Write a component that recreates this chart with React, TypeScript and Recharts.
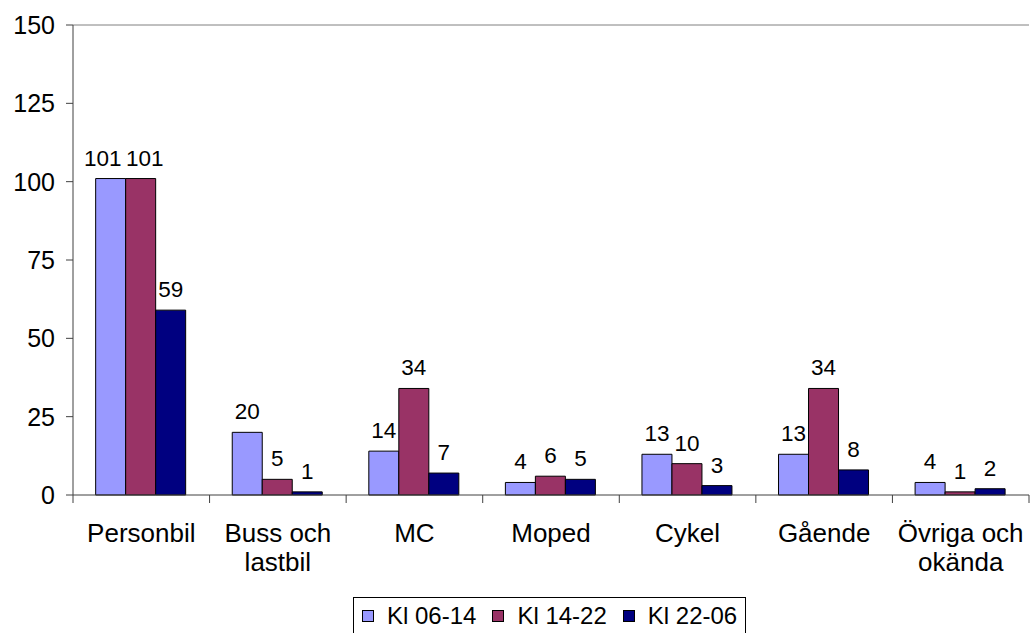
import React from "react";
import {
  BarChart,
  Bar,
  XAxis,
  YAxis,
  LabelList,
  Legend,
  ReferenceLine,
} from "recharts";

const categories = [
  "Personbil",
  "Buss och\nlastbil",
  "MC",
  "Moped",
  "Cykel",
  "Gående",
  "Övriga och\nokända",
];
const kl0614 = [101, 20, 14, 4, 13, 13, 4];
const kl1422 = [101, 5, 34, 6, 10, 34, 1];
const kl2206 = [59, 1, 7, 5, 3, 8, 2];
const yTicks = [0, 25, 50, 75, 100, 125, 150];

const seriesNames = ["Kl 06-14", "Kl 14-22", "Kl 22-06"];
const seriesColors = ["#9999FF", "#993366", "#000080"];
const seriesValues = [kl0614, kl1422, kl2206];

const data = categories.map((c, i) => ({
  name: c,
  a: kl0614[i],
  b: kl1422[i],
  c: kl2206[i],
}));

const FONT = '"Liberation Sans", Arial, Helvetica, sans-serif';

const CategoryTick = (props: any) => {
  const { x, y, payload, index } = props;
  const half = payload && payload.offset ? payload.offset : 0;
  const lines = String(payload.value).split("\n");
  return (
    <g>
      <line x1={x - half} x2={x - half} y1={y} y2={y + 8} stroke="#404040" strokeWidth={1} />
      {index === categories.length - 1 && (
        <line x1={x + half} x2={x + half} y1={y} y2={y + 8} stroke="#404040" strokeWidth={1} />
      )}
      <text x={x} y={y} textAnchor="middle" fontSize={26} fill="#000" fontFamily={FONT}>
        {lines.map((l, i) => (
          <tspan key={i} x={x} dy={i === 0 ? 47 : 29}>
            {l}
          </tspan>
        ))}
      </text>
    </g>
  );
};

const isWide = (v: number | undefined) => v !== undefined && String(v).length >= 3;

// Excel-style nudge: when neighbouring labels in a group are both wide, push them apart
const makeValueLabel = (seriesIdx: number) => (props: any) => {
  const { x, y, width, value, index } = props;
  const s = String(value);
  let dx = 0;
  if (isWide(value)) {
    const next = seriesValues[seriesIdx + 1]?.[index];
    const prev = seriesValues[seriesIdx - 1]?.[index];
    if (isWide(next)) dx -= 8;
    if (isWide(prev)) dx += 4;
  }
  const cx = Number(x) + Number(width) / 2 + dx;
  return (
    <text
      x={cx}
      y={Number(y) - 13}
      textAnchor="middle"
      fontSize={22.5}
      fill="#000"
      fontFamily={FONT}
    >
      {s}
    </text>
  );
};

const LegendContent = () => (
  <div
    style={{
      boxSizing: "border-box",
      width: 393,
      height: 37,
      border: "1px solid #000",
      display: "flex",
      alignItems: "center",
      paddingLeft: 8,
      fontFamily: FONT,
      fontSize: 24,
      color: "#000",
      background: "#fff",
      whiteSpace: "nowrap",
    }}
  >
    {seriesNames.map((n, i) => (
      <div
        key={n}
        style={{
          display: "flex",
          alignItems: "center",
          flexShrink: 0,
          marginRight: i < 2 ? 16 : 0,
        }}
      >
        <span
          style={{
            display: "inline-block",
            boxSizing: "border-box",
            flexShrink: 0,
            width: 12,
            height: 12,
            border: "1px solid #000",
            background: seriesColors[i],
            marginRight: 13,
          }}
        />
        <span style={{ lineHeight: "28px", whiteSpace: "nowrap" }}>{n}</span>
      </div>
    ))}
  </div>
);

export default function App() {
  return (
    <div style={{ position: "absolute", left: 0, top: 0, background: "#fff" }}>
      <BarChart
        width={1031}
        height={633}
        data={data}
        margin={{ top: 25, right: 2, left: 0, bottom: 0 }}
        barCategoryGap="16.6%"
        barGap={0}
      >
        <ReferenceLine y={150} stroke="#808080" strokeWidth={1} />
        <XAxis
          dataKey="name"
          height={138}
          interval={0}
          tickSize={0}
          tickMargin={0}
          tickLine={false}
          axisLine={{ stroke: "#404040" }}
          tick={<CategoryTick />}
        />
        <YAxis
          width={73}
          domain={[0, 150]}
          ticks={yTicks}
          interval={0}
          tickSize={7}
          tickMargin={11}
          axisLine={{ stroke: "#404040" }}
          tickLine={{ stroke: "#404040" }}
          tick={{ fontSize: 25, fill: "#000", fontFamily: FONT }}
        />
        <YAxis
          yAxisId="right"
          orientation="right"
          width={0}
          domain={[0, 150]}
          tick={false}
          tickLine={false}
          axisLine={{ stroke: "#808080" }}
        />
        <Legend
          layout="horizontal"
          verticalAlign="middle"
          align="center"
          content={<LegendContent />}
          wrapperStyle={{ top: 597, left: 353, width: 393, height: 37 }}
        />
        {(["a", "b", "c"] as const).map((k, i) => (
          <Bar
            key={k}
            dataKey={k}
            name={seriesNames[i]}
            fill={seriesColors[i]}
            stroke="#000"
            strokeWidth={1}
            isAnimationActive={false}
          >
            <LabelList dataKey={k} content={makeValueLabel(i)} />
          </Bar>
        ))}
      </BarChart>
    </div>
  );
}
